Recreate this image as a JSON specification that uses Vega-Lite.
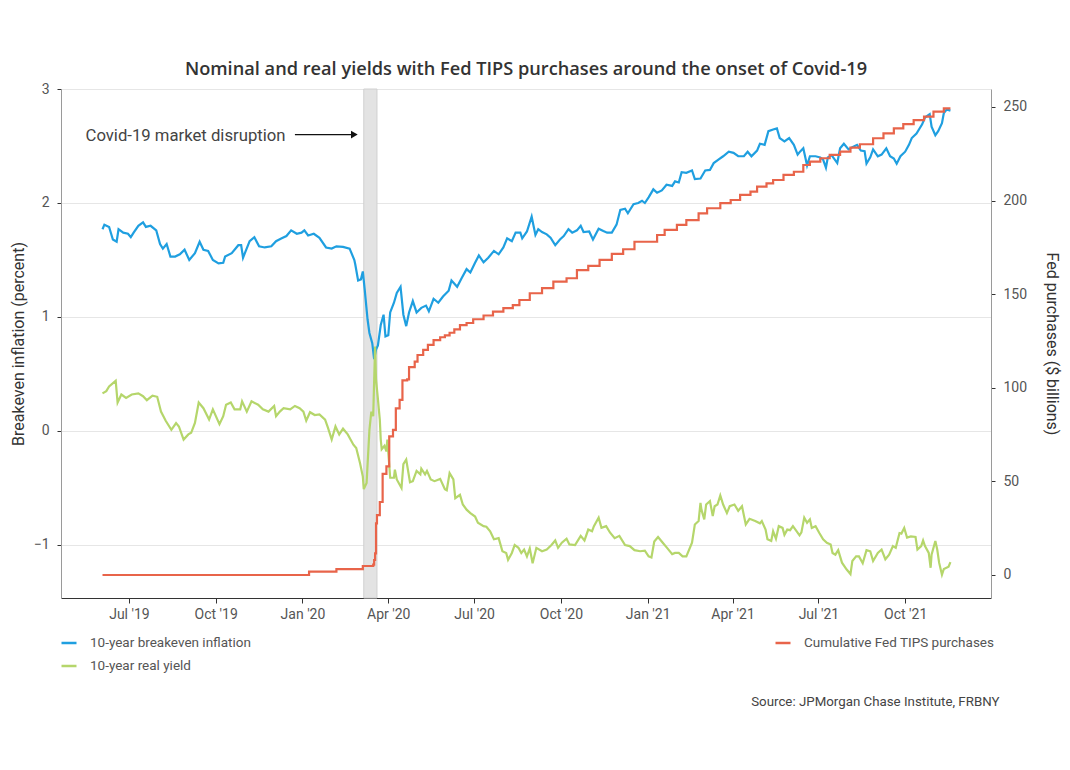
{
  "$schema": "https://vega.github.io/schema/vega-lite/v6.json",
  "width": 930,
  "height": 509,
  "autosize": {"type": "none"},
  "padding": {"left": 61, "top": 89, "right": 79, "bottom": 172},
  "background": "white",
  "title": {"text": "Nominal and real yields with Fed TIPS purchases around the onset of Covid-19", "fontSize": 18.2, "fontWeight": 600, "color": "#333333", "anchor": "middle", "offset": 3, "font": "Open Sans"},
  "config": {"view": {"stroke": null}, "font": "Roboto"},
  "datasets": {
    "breakeven": [
      {"date":"2019-06-03","value":1.77},{"date":"2019-06-05","value":1.81},{"date":"2019-06-10","value":1.79},{"date":"2019-06-14","value":1.68},{"date":"2019-06-18","value":1.66},{"date":"2019-06-20","value":1.77},{"date":"2019-06-25","value":1.74},{"date":"2019-06-30","value":1.73},{"date":"2019-07-03","value":1.70},{"date":"2019-07-06","value":1.74},{"date":"2019-07-11","value":1.80},{"date":"2019-07-16","value":1.83},{"date":"2019-07-19","value":1.79},{"date":"2019-07-24","value":1.80},{"date":"2019-07-30","value":1.76},{"date":"2019-08-03","value":1.64},{"date":"2019-08-06","value":1.60},{"date":"2019-08-10","value":1.64},{"date":"2019-08-14","value":1.53},{"date":"2019-08-19","value":1.53},{"date":"2019-08-24","value":1.55},{"date":"2019-08-29","value":1.59},{"date":"2019-09-03","value":1.50},{"date":"2019-09-09","value":1.56},{"date":"2019-09-14","value":1.66},{"date":"2019-09-18","value":1.59},{"date":"2019-09-23","value":1.58},{"date":"2019-09-28","value":1.50},{"date":"2019-10-04","value":1.47},{"date":"2019-10-09","value":1.475},{"date":"2019-10-11","value":1.53},{"date":"2019-10-18","value":1.56},{"date":"2019-10-25","value":1.63},{"date":"2019-10-28","value":1.63},{"date":"2019-10-30","value":1.52},{"date":"2019-11-06","value":1.665},{"date":"2019-11-11","value":1.70},{"date":"2019-11-16","value":1.62},{"date":"2019-11-22","value":1.61},{"date":"2019-11-29","value":1.62},{"date":"2019-12-04","value":1.665},{"date":"2019-12-10","value":1.69},{"date":"2019-12-15","value":1.71},{"date":"2019-12-20","value":1.76},{"date":"2019-12-26","value":1.73},{"date":"2019-12-31","value":1.74},{"date":"2020-01-03","value":1.76},{"date":"2020-01-07","value":1.715},{"date":"2020-01-13","value":1.73},{"date":"2020-01-19","value":1.695},{"date":"2020-01-26","value":1.61},{"date":"2020-02-01","value":1.60},{"date":"2020-02-06","value":1.62},{"date":"2020-02-13","value":1.615},{"date":"2020-02-20","value":1.60},{"date":"2020-02-25","value":1.50},{"date":"2020-02-26","value":1.46},{"date":"2020-02-29","value":1.32},{"date":"2020-03-03","value":1.33},{"date":"2020-03-05","value":1.40},{"date":"2020-03-07","value":1.24},{"date":"2020-03-10","value":0.98},{"date":"2020-03-12","value":0.86},{"date":"2020-03-15","value":0.77},{"date":"2020-03-17","value":0.63},{"date":"2020-03-19","value":0.715},{"date":"2020-03-21","value":0.75},{"date":"2020-03-24","value":0.93},{"date":"2020-03-27","value":1.02},{"date":"2020-03-29","value":0.83},{"date":"2020-04-01","value":0.84},{"date":"2020-04-03","value":1.04},{"date":"2020-04-07","value":1.125},{"date":"2020-04-10","value":1.21},{"date":"2020-04-14","value":1.265},{"date":"2020-04-17","value":1.02},{"date":"2020-04-20","value":0.92},{"date":"2020-04-23","value":1.04},{"date":"2020-04-27","value":1.14},{"date":"2020-05-01","value":1.04},{"date":"2020-05-06","value":1.08},{"date":"2020-05-11","value":1.10},{"date":"2020-05-14","value":1.05},{"date":"2020-05-19","value":1.16},{"date":"2020-05-24","value":1.125},{"date":"2020-05-29","value":1.18},{"date":"2020-06-04","value":1.23},{"date":"2020-06-07","value":1.32},{"date":"2020-06-13","value":1.265},{"date":"2020-06-18","value":1.345},{"date":"2020-06-23","value":1.42},{"date":"2020-06-27","value":1.39},{"date":"2020-07-02","value":1.475},{"date":"2020-07-06","value":1.54},{"date":"2020-07-11","value":1.48},{"date":"2020-07-16","value":1.52},{"date":"2020-07-22","value":1.58},{"date":"2020-07-27","value":1.55},{"date":"2020-08-01","value":1.61},{"date":"2020-08-05","value":1.69},{"date":"2020-08-10","value":1.665},{"date":"2020-08-14","value":1.74},{"date":"2020-08-19","value":1.74},{"date":"2020-08-21","value":1.69},{"date":"2020-08-26","value":1.75},{"date":"2020-08-31","value":1.88},{"date":"2020-09-04","value":1.72},{"date":"2020-09-07","value":1.77},{"date":"2020-09-11","value":1.745},{"date":"2020-09-16","value":1.725},{"date":"2020-09-20","value":1.695},{"date":"2020-09-25","value":1.63},{"date":"2020-09-30","value":1.68},{"date":"2020-10-04","value":1.71},{"date":"2020-10-09","value":1.77},{"date":"2020-10-13","value":1.74},{"date":"2020-10-18","value":1.76},{"date":"2020-10-22","value":1.80},{"date":"2020-10-25","value":1.745},{"date":"2020-10-31","value":1.75},{"date":"2020-11-04","value":1.68},{"date":"2020-11-10","value":1.775},{"date":"2020-11-15","value":1.755},{"date":"2020-11-19","value":1.74},{"date":"2020-11-24","value":1.74},{"date":"2020-11-29","value":1.81},{"date":"2020-12-03","value":1.94},{"date":"2020-12-08","value":1.95},{"date":"2020-12-11","value":1.91},{"date":"2020-12-17","value":1.99},{"date":"2020-12-22","value":2.00},{"date":"2020-12-26","value":2.02},{"date":"2020-12-29","value":2.00},{"date":"2021-01-02","value":2.05},{"date":"2021-01-07","value":2.12},{"date":"2021-01-11","value":2.09},{"date":"2021-01-16","value":2.11},{"date":"2021-01-21","value":2.16},{"date":"2021-01-27","value":2.15},{"date":"2021-01-30","value":2.19},{"date":"2021-02-03","value":2.18},{"date":"2021-02-06","value":2.27},{"date":"2021-02-11","value":2.265},{"date":"2021-02-17","value":2.285},{"date":"2021-02-20","value":2.21},{"date":"2021-02-26","value":2.215},{"date":"2021-03-03","value":2.285},{"date":"2021-03-08","value":2.29},{"date":"2021-03-12","value":2.35},{"date":"2021-03-17","value":2.38},{"date":"2021-03-22","value":2.41},{"date":"2021-03-28","value":2.45},{"date":"2021-04-02","value":2.44},{"date":"2021-04-07","value":2.41},{"date":"2021-04-13","value":2.41},{"date":"2021-04-17","value":2.45},{"date":"2021-04-21","value":2.41},{"date":"2021-04-27","value":2.46},{"date":"2021-04-30","value":2.52},{"date":"2021-05-05","value":2.51},{"date":"2021-05-09","value":2.63},{"date":"2021-05-14","value":2.645},{"date":"2021-05-18","value":2.655},{"date":"2021-05-21","value":2.57},{"date":"2021-05-26","value":2.54},{"date":"2021-05-31","value":2.57},{"date":"2021-06-05","value":2.51},{"date":"2021-06-09","value":2.425},{"date":"2021-06-12","value":2.455},{"date":"2021-06-15","value":2.48},{"date":"2021-06-19","value":2.33},{"date":"2021-06-22","value":2.41},{"date":"2021-06-28","value":2.41},{"date":"2021-07-03","value":2.40},{"date":"2021-07-06","value":2.38},{"date":"2021-07-09","value":2.31},{"date":"2021-07-11","value":2.40},{"date":"2021-07-15","value":2.42},{"date":"2021-07-21","value":2.35},{"date":"2021-07-24","value":2.48},{"date":"2021-07-28","value":2.52},{"date":"2021-08-02","value":2.47},{"date":"2021-08-06","value":2.49},{"date":"2021-08-11","value":2.51},{"date":"2021-08-15","value":2.46},{"date":"2021-08-19","value":2.455},{"date":"2021-08-21","value":2.345},{"date":"2021-08-25","value":2.40},{"date":"2021-08-28","value":2.47},{"date":"2021-09-02","value":2.41},{"date":"2021-09-06","value":2.425},{"date":"2021-09-11","value":2.48},{"date":"2021-09-15","value":2.41},{"date":"2021-09-19","value":2.39},{"date":"2021-09-22","value":2.345},{"date":"2021-09-26","value":2.41},{"date":"2021-10-01","value":2.45},{"date":"2021-10-05","value":2.51},{"date":"2021-10-08","value":2.57},{"date":"2021-10-13","value":2.61},{"date":"2021-10-19","value":2.69},{"date":"2021-10-22","value":2.75},{"date":"2021-10-27","value":2.78},{"date":"2021-10-29","value":2.67},{"date":"2021-11-02","value":2.595},{"date":"2021-11-05","value":2.63},{"date":"2021-11-09","value":2.70},{"date":"2021-11-11","value":2.79},{"date":"2021-11-14","value":2.82},{"date":"2021-11-18","value":2.81}
    ],
    "realyield": [
      {"date":"2019-06-03","value":0.33},{"date":"2019-06-07","value":0.35},{"date":"2019-06-10","value":0.39},{"date":"2019-06-17","value":0.44},{"date":"2019-06-19","value":0.25},{"date":"2019-06-23","value":0.32},{"date":"2019-06-28","value":0.29},{"date":"2019-07-04","value":0.32},{"date":"2019-07-11","value":0.33},{"date":"2019-07-16","value":0.305},{"date":"2019-07-20","value":0.27},{"date":"2019-07-26","value":0.31},{"date":"2019-07-31","value":0.30},{"date":"2019-08-04","value":0.17},{"date":"2019-08-09","value":0.09},{"date":"2019-08-15","value":0.01},{"date":"2019-08-20","value":0.07},{"date":"2019-08-23","value":0.04},{"date":"2019-08-28","value":-0.075},{"date":"2019-09-02","value":-0.03},{"date":"2019-09-05","value":-0.016},{"date":"2019-09-09","value":0.07},{"date":"2019-09-13","value":0.25},{"date":"2019-09-18","value":0.20},{"date":"2019-09-24","value":0.10},{"date":"2019-09-28","value":0.19},{"date":"2019-10-05","value":0.06},{"date":"2019-10-09","value":0.13},{"date":"2019-10-12","value":0.23},{"date":"2019-10-17","value":0.25},{"date":"2019-10-21","value":0.19},{"date":"2019-10-27","value":0.19},{"date":"2019-10-29","value":0.26},{"date":"2019-11-03","value":0.17},{"date":"2019-11-08","value":0.26},{"date":"2019-11-15","value":0.23},{"date":"2019-11-20","value":0.19},{"date":"2019-11-26","value":0.17},{"date":"2019-12-02","value":0.22},{"date":"2019-12-04","value":0.13},{"date":"2019-12-08","value":0.17},{"date":"2019-12-12","value":0.20},{"date":"2019-12-19","value":0.19},{"date":"2019-12-24","value":0.22},{"date":"2019-12-29","value":0.20},{"date":"2020-01-02","value":0.17},{"date":"2020-01-05","value":0.09},{"date":"2020-01-09","value":0.165},{"date":"2020-01-14","value":0.14},{"date":"2020-01-19","value":0.145},{"date":"2020-01-25","value":0.10},{"date":"2020-01-28","value":0.03},{"date":"2020-02-01","value":-0.075},{"date":"2020-02-05","value":0.04},{"date":"2020-02-09","value":-0.03},{"date":"2020-02-13","value":0.02},{"date":"2020-02-18","value":-0.03},{"date":"2020-02-24","value":-0.12},{"date":"2020-02-27","value":-0.15},{"date":"2020-03-02","value":-0.28},{"date":"2020-03-05","value":-0.40},{"date":"2020-03-06","value":-0.51},{"date":"2020-03-09","value":-0.455},{"date":"2020-03-12","value":0.01},{"date":"2020-03-14","value":0.17},{"date":"2020-03-16","value":0.13},{"date":"2020-03-18","value":0.74},{"date":"2020-03-19","value":0.45},{"date":"2020-03-21","value":0.28},{"date":"2020-03-23","value":0.10},{"date":"2020-03-24","value":-0.075},{"date":"2020-03-25","value":-0.16},{"date":"2020-03-28","value":-0.13},{"date":"2020-03-30","value":-0.18},{"date":"2020-03-31","value":-0.075},{"date":"2020-04-03","value":-0.41},{"date":"2020-04-07","value":-0.41},{"date":"2020-04-08","value":-0.34},{"date":"2020-04-10","value":-0.425},{"date":"2020-04-15","value":-0.50},{"date":"2020-04-17","value":-0.29},{"date":"2020-04-20","value":-0.25},{"date":"2020-04-24","value":-0.45},{"date":"2020-04-27","value":-0.44},{"date":"2020-05-01","value":-0.35},{"date":"2020-05-05","value":-0.38},{"date":"2020-05-06","value":-0.33},{"date":"2020-05-10","value":-0.38},{"date":"2020-05-12","value":-0.35},{"date":"2020-05-16","value":-0.425},{"date":"2020-05-20","value":-0.44},{"date":"2020-05-26","value":-0.42},{"date":"2020-05-31","value":-0.51},{"date":"2020-06-02","value":-0.52},{"date":"2020-06-05","value":-0.37},{"date":"2020-06-09","value":-0.425},{"date":"2020-06-11","value":-0.59},{"date":"2020-06-16","value":-0.56},{"date":"2020-06-19","value":-0.645},{"date":"2020-06-23","value":-0.69},{"date":"2020-06-27","value":-0.72},{"date":"2020-07-02","value":-0.75},{"date":"2020-07-05","value":-0.805},{"date":"2020-07-11","value":-0.835},{"date":"2020-07-14","value":-0.84},{"date":"2020-07-18","value":-0.88},{"date":"2020-07-22","value":-0.95},{"date":"2020-07-27","value":-0.94},{"date":"2020-07-31","value":-1.055},{"date":"2020-08-04","value":-1.07},{"date":"2020-08-06","value":-1.13},{"date":"2020-08-10","value":-1.07},{"date":"2020-08-13","value":-1.00},{"date":"2020-08-17","value":-1.025},{"date":"2020-08-20","value":-1.07},{"date":"2020-08-23","value":-1.04},{"date":"2020-08-26","value":-1.10},{"date":"2020-08-29","value":-1.03},{"date":"2020-09-01","value":-1.16},{"date":"2020-09-05","value":-1.025},{"date":"2020-09-11","value":-1.055},{"date":"2020-09-16","value":-1.04},{"date":"2020-09-21","value":-1.00},{"date":"2020-09-25","value":-0.96},{"date":"2020-09-28","value":-1.025},{"date":"2020-10-02","value":-0.98},{"date":"2020-10-07","value":-0.945},{"date":"2020-10-10","value":-0.995},{"date":"2020-10-16","value":-1.00},{"date":"2020-10-22","value":-0.92},{"date":"2020-10-26","value":-0.96},{"date":"2020-10-30","value":-0.865},{"date":"2020-11-03","value":-0.88},{"date":"2020-11-05","value":-0.835},{"date":"2020-11-10","value":-0.76},{"date":"2020-11-13","value":-0.85},{"date":"2020-11-18","value":-0.835},{"date":"2020-11-22","value":-0.89},{"date":"2020-11-27","value":-0.94},{"date":"2020-12-02","value":-0.92},{"date":"2020-12-08","value":-1.00},{"date":"2020-12-13","value":-1.01},{"date":"2020-12-18","value":-1.045},{"date":"2020-12-24","value":-1.055},{"date":"2020-12-29","value":-1.05},{"date":"2021-01-02","value":-1.10},{"date":"2021-01-05","value":-1.11},{"date":"2021-01-08","value":-0.97},{"date":"2021-01-12","value":-0.93},{"date":"2021-01-17","value":-0.98},{"date":"2021-01-22","value":-1.03},{"date":"2021-01-27","value":-1.08},{"date":"2021-01-30","value":-1.07},{"date":"2021-02-03","value":-1.07},{"date":"2021-02-07","value":-1.10},{"date":"2021-02-11","value":-1.10},{"date":"2021-02-17","value":-0.98},{"date":"2021-02-20","value":-0.82},{"date":"2021-02-24","value":-0.79},{"date":"2021-02-26","value":-0.63},{"date":"2021-02-27","value":-0.69},{"date":"2021-03-02","value":-0.775},{"date":"2021-03-04","value":-0.645},{"date":"2021-03-08","value":-0.615},{"date":"2021-03-11","value":-0.745},{"date":"2021-03-13","value":-0.66},{"date":"2021-03-16","value":-0.645},{"date":"2021-03-19","value":-0.565},{"date":"2021-03-22","value":-0.645},{"date":"2021-03-26","value":-0.72},{"date":"2021-03-29","value":-0.66},{"date":"2021-04-03","value":-0.645},{"date":"2021-04-07","value":-0.70},{"date":"2021-04-11","value":-0.66},{"date":"2021-04-15","value":-0.82},{"date":"2021-04-19","value":-0.77},{"date":"2021-04-25","value":-0.79},{"date":"2021-04-30","value":-0.81},{"date":"2021-05-02","value":-0.79},{"date":"2021-05-06","value":-0.865},{"date":"2021-05-08","value":-0.95},{"date":"2021-05-12","value":-0.965},{"date":"2021-05-14","value":-0.88},{"date":"2021-05-17","value":-0.945},{"date":"2021-05-20","value":-0.835},{"date":"2021-05-24","value":-0.85},{"date":"2021-05-26","value":-0.91},{"date":"2021-05-29","value":-0.865},{"date":"2021-06-01","value":-0.87},{"date":"2021-06-04","value":-0.835},{"date":"2021-06-08","value":-0.88},{"date":"2021-06-11","value":-0.915},{"date":"2021-06-13","value":-0.89},{"date":"2021-06-16","value":-0.76},{"date":"2021-06-19","value":-0.805},{"date":"2021-06-22","value":-0.775},{"date":"2021-06-24","value":-0.85},{"date":"2021-06-28","value":-0.835},{"date":"2021-07-02","value":-0.895},{"date":"2021-07-06","value":-0.95},{"date":"2021-07-10","value":-0.98},{"date":"2021-07-14","value":-0.995},{"date":"2021-07-16","value":-1.07},{"date":"2021-07-19","value":-1.085},{"date":"2021-07-22","value":-1.045},{"date":"2021-07-26","value":-1.155},{"date":"2021-07-31","value":-1.215},{"date":"2021-08-04","value":-1.255},{"date":"2021-08-06","value":-1.14},{"date":"2021-08-10","value":-1.10},{"date":"2021-08-13","value":-1.10},{"date":"2021-08-17","value":-1.16},{"date":"2021-08-21","value":-1.045},{"date":"2021-08-25","value":-1.055},{"date":"2021-08-28","value":-1.14},{"date":"2021-09-02","value":-1.07},{"date":"2021-09-06","value":-1.04},{"date":"2021-09-10","value":-1.125},{"date":"2021-09-14","value":-1.085},{"date":"2021-09-18","value":-1.01},{"date":"2021-09-21","value":-1.025},{"date":"2021-09-25","value":-0.895},{"date":"2021-09-27","value":-0.90},{"date":"2021-09-30","value":-0.85},{"date":"2021-10-03","value":-0.935},{"date":"2021-10-07","value":-0.925},{"date":"2021-10-12","value":-0.93},{"date":"2021-10-14","value":-1.04},{"date":"2021-10-18","value":-1.01},{"date":"2021-10-20","value":-0.96},{"date":"2021-10-22","value":-1.01},{"date":"2021-10-26","value":-1.07},{"date":"2021-10-28","value":-1.20},{"date":"2021-10-29","value":-1.085},{"date":"2021-11-02","value":-0.965},{"date":"2021-11-04","value":-1.04},{"date":"2021-11-06","value":-1.155},{"date":"2021-11-09","value":-1.26},{"date":"2021-11-11","value":-1.21},{"date":"2021-11-16","value":-1.19},{"date":"2021-11-18","value":-1.15}
    ],
    "purchases": [
      {"date":"2019-06-03","value":0},{"date":"2020-01-08","value":1.8},{"date":"2020-02-06","value":3.1},{"date":"2020-03-05","value":4.8},{"date":"2020-03-16","value":5.5},{"date":"2020-03-17","value":8},{"date":"2020-03-18","value":11.6},{"date":"2020-03-19","value":27.6},{"date":"2020-03-20","value":32},{"date":"2020-03-23","value":39},{"date":"2020-03-26","value":54},{"date":"2020-03-30","value":58},{"date":"2020-04-02","value":74},{"date":"2020-04-06","value":77.5},{"date":"2020-04-09","value":89},{"date":"2020-04-13","value":93.5},{"date":"2020-04-16","value":104},{"date":"2020-04-21","value":104.5},{"date":"2020-04-23","value":111},{"date":"2020-04-29","value":114},{"date":"2020-05-02","value":117.5},{"date":"2020-05-08","value":120.2},{"date":"2020-05-13","value":122.9},{"date":"2020-05-19","value":125.5},{"date":"2020-05-26","value":127},{"date":"2020-05-31","value":128},{"date":"2020-06-05","value":129.4},{"date":"2020-06-10","value":131.2},{"date":"2020-06-16","value":133.5},{"date":"2020-06-23","value":134.6},{"date":"2020-06-30","value":136.6},{"date":"2020-07-11","value":138.6},{"date":"2020-07-21","value":140.7},{"date":"2020-08-01","value":142.5},{"date":"2020-08-11","value":144.2},{"date":"2020-08-18","value":146.9},{"date":"2020-08-29","value":150.5},{"date":"2020-09-11","value":153.2},{"date":"2020-09-23","value":156.7},{"date":"2020-10-07","value":158.5},{"date":"2020-10-18","value":162.9},{"date":"2020-10-30","value":165.1},{"date":"2020-11-11","value":168.3},{"date":"2020-11-24","value":171.5},{"date":"2020-12-06","value":174},{"date":"2020-12-18","value":178},{"date":"2021-01-11","value":181.6},{"date":"2021-01-19","value":184.3},{"date":"2021-02-01","value":187},{"date":"2021-02-11","value":189.6},{"date":"2021-02-24","value":193.2},{"date":"2021-03-05","value":195.9},{"date":"2021-03-19","value":198.6},{"date":"2021-03-30","value":200.3},{"date":"2021-04-09","value":203},{"date":"2021-04-20","value":204.8},{"date":"2021-04-27","value":207.4},{"date":"2021-05-07","value":209.2},{"date":"2021-05-14","value":211},{"date":"2021-05-25","value":213.7},{"date":"2021-06-05","value":215.4},{"date":"2021-06-15","value":219},{"date":"2021-06-22","value":220.8},{"date":"2021-07-03","value":222.6},{"date":"2021-07-13","value":224.4},{"date":"2021-07-24","value":226.1},{"date":"2021-08-04","value":228.3},{"date":"2021-08-14","value":230.1},{"date":"2021-08-28","value":233.3},{"date":"2021-09-08","value":235.9},{"date":"2021-09-19","value":238.6},{"date":"2021-09-29","value":240.8},{"date":"2021-10-10","value":243},{"date":"2021-10-21","value":244.8},{"date":"2021-10-31","value":247.5},{"date":"2021-11-11","value":249.3},{"date":"2021-11-18","value":249.3}
    ]
  },
  "layer": [
    {
      "layer": [
        {
          "data": {"values": [{"start": "2020-03-06", "end": "2020-03-20"}]},
          "mark": {"type": "rect", "fill": "#e3e3e3", "stroke": "#d0d0d0", "strokeWidth": 1},
          "encoding": {
            "x": {
              "field": "start", "type": "temporal",
              "scale": {"type": "utc", "domain": [{"year": 2019, "month": 4, "date": 20, "utc": true}, {"year": 2021, "month": 12, "date": 31, "utc": true}]},
              "axis": {
                "values": [{"year": 2019, "month": 7, "date": 1, "utc": true}, {"year": 2019, "month": 10, "date": 1, "utc": true}, {"year": 2020, "month": 1, "date": 1, "utc": true}, {"year": 2020, "month": 4, "date": 1, "utc": true}, {"year": 2020, "month": 7, "date": 1, "utc": true}, {"year": 2020, "month": 10, "date": 1, "utc": true}, {"year": 2021, "month": 1, "date": 1, "utc": true}, {"year": 2021, "month": 4, "date": 1, "utc": true}, {"year": 2021, "month": 7, "date": 1, "utc": true}, {"year": 2021, "month": 10, "date": 1, "utc": true}],
                "format": "%b '%y",
                "grid": false,
                "domainColor": "#333333",
                "tickColor": "#333333",
                "tickSize": 5,
                "labelFontSize": 14,
                "labelColor": "#555555",
                "labelPadding": 4,
                "labelFont": "Roboto",
                "title": "Source: JPMorgan Chase Institute, FRBNY",
                "titleX": 938,
                "titleY": 103,
                "titleAlign": "right",
                "titleBaseline": "middle",
                "titleFontSize": 13.3,
                "titleFontWeight": "normal",
                "titleColor": "#444444",
                "titleFont": "Roboto"
              }
            },
            "x2": {"field": "end"}
          }
        },
        {
          "data": {"values": [{"date": "2019-05-16", "value": 2.59, "label": "Covid-19 market disruption"}]},
          "mark": {"type": "text", "align": "left", "baseline": "middle", "fontSize": 16.7, "color": "#444444", "font": "Roboto"},
          "encoding": {
            "x": {"field": "date", "type": "temporal"},
            "y": {
              "field": "value", "type": "quantitative",
              "scale": {"domain": [-1.465, 3.0], "nice": false, "zero": false},
              "axis": {
                "orient": "left",
                "values": [-1, 0, 1, 2, 3],
                "format": "d",
                "grid": true,
                "gridColor": "#e6e6e6",
                "domainColor": "#9a9a9a",
                "tickColor": "#333333",
                "tickSize": 4,
                "labelFontSize": 14,
                "labelColor": "#555555",
                "labelPadding": 8,
                "labelFont": "Roboto",
                "title": "Breakeven inflation (percent)",
                "titleFontSize": 16,
                "titleFontWeight": "normal",
                "titleColor": "#333333",
                "titleFont": "Roboto",
                "titleX": -43,
                "titleY": 254.5,
                "titleAngle": -90,
                "titleAlign": "center",
                "titleBaseline": "middle"
              }
            },
            "text": {"field": "label"}
          }
        },
        {
          "data": {"values": [{"date": "2019-12-24", "date_end": "2020-02-24", "value": 2.6}]},
          "mark": {"type": "rule", "color": "#111111", "strokeWidth": 1.3},
          "encoding": {
            "x": {"field": "date", "type": "temporal"},
            "x2": {"field": "date_end"},
            "y": {"field": "value", "type": "quantitative"}
          }
        },
        {
          "data": {"values": [{"date": "2020-02-25", "value": 2.6}]},
          "mark": {"type": "point", "shape": "triangle-right", "filled": true, "size": 60, "color": "#111111", "opacity": 1},
          "encoding": {
            "x": {"field": "date", "type": "temporal"},
            "y": {"field": "value", "type": "quantitative"}
          }
        },
        {
          "data": {"name": "breakeven"},
          "transform": [{"calculate": "'10-year breakeven inflation'", "as": "series"}],
          "mark": {"type": "line", "strokeWidth": 2.2},
          "encoding": {
            "x": {"field": "date", "type": "temporal"},
            "y": {"field": "value", "type": "quantitative"},
            "color": {
              "field": "series", "type": "nominal",
              "scale": {"domain": ["10-year breakeven inflation", "10-year real yield"], "range": ["#1f9fe0", "#b5d66b"]},
              "legend": {"orient": "none", "legendX": -1, "legendY": 545, "title": null, "direction": "vertical", "symbolType": "stroke", "symbolStrokeWidth": 2.5, "symbolSize": 225, "labelFontSize": 13.5, "labelColor": "#555555", "labelFont": "Roboto", "labelLimit": 400, "rowPadding": 7, "labelOffset": 12, "padding": 0}
            }
          }
        },
        {
          "data": {"name": "realyield"},
          "transform": [{"calculate": "'10-year real yield'", "as": "series"}],
          "mark": {"type": "line", "strokeWidth": 2.2},
          "encoding": {
            "x": {"field": "date", "type": "temporal"},
            "y": {"field": "value", "type": "quantitative"},
            "color": {"field": "series", "type": "nominal"}
          }
        }
      ]
    },
    {
      "data": {"name": "purchases"},
      "transform": [{"calculate": "'Cumulative Fed TIPS purchases'", "as": "series"}],
      "mark": {"type": "line", "strokeWidth": 2.2, "interpolate": "step-after"},
      "encoding": {
        "x": {"field": "date", "type": "temporal"},
        "y": {
          "field": "value", "type": "quantitative",
          "scale": {"domain": [-12.29, 259.6], "nice": false, "zero": false},
          "axis": {
            "orient": "right",
            "values": [0, 50, 100, 150, 200, 250],
            "grid": false,
            "domainColor": "#9a9a9a",
            "tickColor": "#333333",
            "tickSize": 4,
            "labelFontSize": 14,
            "labelColor": "#555555",
            "labelPadding": 8,
            "labelFont": "Roboto",
            "title": "Fed purchases ($ billions)",
            "titleFontSize": 16,
            "titleFontWeight": "normal",
            "titleColor": "#333333",
            "titleFont": "Roboto",
            "titleX": 60,
            "titleY": 254.5,
            "titleAngle": 90,
            "titleAlign": "center",
            "titleBaseline": "middle"
          }
        },
        "color": {
          "field": "series", "type": "nominal",
          "scale": {"domain": ["Cumulative Fed TIPS purchases"], "range": ["#e8644a"]},
          "legend": {"orient": "none", "legendX": 713, "legendY": 545, "title": null, "direction": "vertical", "symbolType": "stroke", "symbolStrokeWidth": 2.5, "symbolSize": 225, "labelFontSize": 13.5, "labelColor": "#555555", "labelFont": "Roboto", "labelLimit": 400, "labelOffset": 12, "padding": 0}
        }
      }
    }
  ],
  "resolve": {"scale": {"y": "independent", "color": "independent"}, "axis": {"y": "independent"}, "legend": {"color": "independent"}}
}
